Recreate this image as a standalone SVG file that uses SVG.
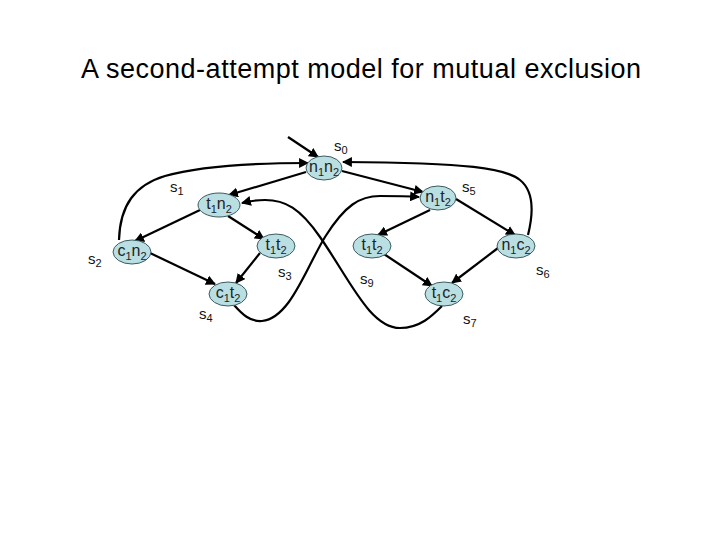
<svg xmlns="http://www.w3.org/2000/svg" width="720" height="540" viewBox="0 0 720 540">
<defs>
<marker id="ah" viewBox="0 0 10 10" refX="9" refY="5" markerWidth="4.5" markerHeight="4.5" orient="auto" markerUnits="strokeWidth">
<path d="M0,0 L10,5 L0,10 z" fill="#000"/>
</marker>
<style>
.n ellipse{fill:#b9dfe3;stroke:#3c5a60;stroke-width:1}
.n text{font-family:"Liberation Sans",Arial,sans-serif;font-size:16px;fill:#222;text-anchor:middle}
.lbl{font-family:"Liberation Sans",Arial,sans-serif;font-size:15px;fill:#111}
.e{fill:none;stroke:#000;stroke-width:2.2;marker-end:url(#ah)}
.sub{font-size:11px}
</style>
</defs>
<rect width="720" height="540" fill="#fff"/>
<text x="361" y="78" font-family="Liberation Sans, Arial, sans-serif" font-size="27" text-anchor="middle" textLength="560">A second-attempt model for mutual exclusion</text>

<g id="connectors">
<line class="e" x1="288" y1="137" x2="318" y2="157"/>
<line class="e" x1="306" y1="172" x2="229" y2="195"/>
<line class="e" x1="342" y1="171" x2="423" y2="192"/>
<line class="e" x1="200" y1="210" x2="135" y2="241"/>
<line class="e" x1="228" y1="216" x2="264" y2="239"/>
<line class="e" x1="150" y1="253" x2="215" y2="284"/>
<line class="e" x1="260" y1="253" x2="236" y2="283"/>
<line class="e" x1="430" y1="210" x2="378" y2="235"/>
<line class="e" x1="456" y1="199" x2="515" y2="235"/>
<line class="e" x1="384" y1="254" x2="432" y2="286"/>
<line class="e" x1="498" y1="248" x2="452" y2="283"/>
<path class="e" d="M119,240 C120,205 135,185 165,176 C200,166 260,163 308,163"/>
<path class="e" d="M528,235 C533,215 535,192 520,180 C505,168 470,163 343,162"/>
<path class="e" d="M234,305 C242,314 250,322 262,321 C290,318 305,270 325,237 C345,205 360,196 380,196 C395,196 405,196 419,197"/>
<path class="e" d="M442,306 C432,316 420,328 400,328 C370,328 350,280 320,237 C300,208 285,200 265,200 C255,200 250,201 242,203"/>
</g>

<g id="s0" class="n"><ellipse cx="324" cy="168" rx="18" ry="12"/><text x="324" y="172">n<tspan class="sub" dy="4">1</tspan><tspan dy="-4">n</tspan><tspan class="sub" dy="4">2</tspan></text></g>
<g id="s1" class="n"><ellipse cx="219" cy="205" rx="21" ry="12"/><text x="219" y="209">t<tspan class="sub" dy="4">1</tspan><tspan dy="-4">n</tspan><tspan class="sub" dy="4">2</tspan></text></g>
<g id="s2" class="n"><ellipse cx="132" cy="252" rx="19" ry="12"/><text x="132" y="256">c<tspan class="sub" dy="4">1</tspan><tspan dy="-4">n</tspan><tspan class="sub" dy="4">2</tspan></text></g>
<g id="s3" class="n"><ellipse cx="276" cy="246" rx="19" ry="12"/><text x="276" y="250">t<tspan class="sub" dy="4">1</tspan><tspan dy="-4">t</tspan><tspan class="sub" dy="4">2</tspan></text></g>
<g id="s4" class="n"><ellipse cx="228" cy="294" rx="19" ry="12"/><text x="228" y="298">c<tspan class="sub" dy="4">1</tspan><tspan dy="-4">t</tspan><tspan class="sub" dy="4">2</tspan></text></g>
<g id="s5" class="n"><ellipse cx="438" cy="198" rx="18" ry="12"/><text x="438" y="202">n<tspan class="sub" dy="4">1</tspan><tspan dy="-4">t</tspan><tspan class="sub" dy="4">2</tspan></text></g>
<g id="s9" class="n"><ellipse cx="372" cy="246" rx="19" ry="12"/><text x="372" y="250">t<tspan class="sub" dy="4">1</tspan><tspan dy="-4">t</tspan><tspan class="sub" dy="4">2</tspan></text></g>
<g id="s6" class="n"><ellipse cx="516" cy="246" rx="19" ry="12"/><text x="516" y="250">n<tspan class="sub" dy="4">1</tspan><tspan dy="-4">c</tspan><tspan class="sub" dy="4">2</tspan></text></g>
<g id="s7" class="n"><ellipse cx="444" cy="294" rx="19" ry="12"/><text x="444" y="298">t<tspan class="sub" dy="4">1</tspan><tspan dy="-4">c</tspan><tspan class="sub" dy="4">2</tspan></text></g>

<g id="labels">
<text class="lbl" x="334" y="151">s<tspan class="sub" dy="3">0</tspan></text>
<text class="lbl" x="170" y="192">s<tspan class="sub" dy="3">1</tspan></text>
<text class="lbl" x="88" y="264">s<tspan class="sub" dy="3">2</tspan></text>
<text class="lbl" x="278" y="277">s<tspan class="sub" dy="3">3</tspan></text>
<text class="lbl" x="199" y="319">s<tspan class="sub" dy="3">4</tspan></text>
<text class="lbl" x="462" y="192">s<tspan class="sub" dy="3">5</tspan></text>
<text class="lbl" x="536" y="275">s<tspan class="sub" dy="3">6</tspan></text>
<text class="lbl" x="463" y="324">s<tspan class="sub" dy="3">7</tspan></text>
<text class="lbl" x="360" y="284">s<tspan class="sub" dy="3">9</tspan></text>
</g>
</svg>
